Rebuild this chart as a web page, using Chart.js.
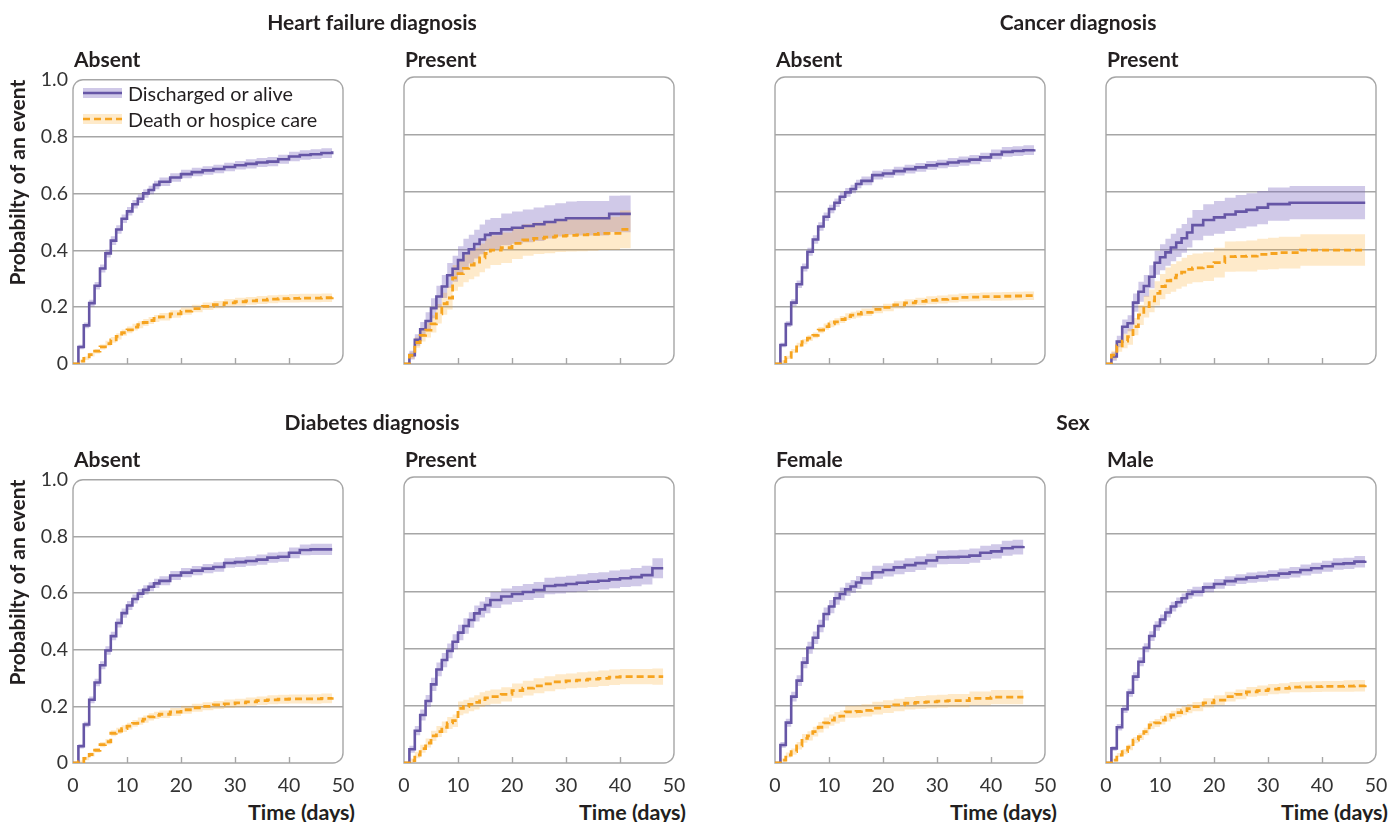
<!DOCTYPE html>
<html>
<head>
<meta charset="utf-8">
<script src="https://cdn.jsdelivr.net/npm/chart.js@4.4.1/dist/chart.umd.min.js"></script>
<style>
  body { margin: 0; background: #fff; font-family: Lato, sans-serif; color: #231f20; }
  #wrap { position: relative; width: 1392px; height: 822px; overflow: hidden; }
  #wrap canvas { position: absolute; }
  .title { position: absolute; font-weight: 700; font-size: 21px; white-space: nowrap; transform: translate(-50%, -50%); }
  .sub { position: absolute; font-weight: 700; font-size: 21px; white-space: nowrap; transform: translateY(-50%); }
  .xt { position: absolute; font-weight: 700; font-size: 21.5px; white-space: nowrap; transform: translate(-100%, -50%); }
  .leg { position: absolute; left: 83px; display: flex; align-items: center; font-size: 19.8px; white-space: nowrap; transform: translateY(-50%); }
  .leg svg { margin-right: 6px; }
</style>
</head>
<body>
<div id="wrap"></div>
<script>
// time points (days)
const T = [0,1,2,3,4,5,6,7,8,9,10,11,12,13,14,15,16,18,20,22,24,26,28,30,32,34,36,38,40,42,44,46,48];

// Heart failure diagnosis - absent
const hfAbsentDisch = [0,0.06,0.136,0.214,0.275,0.336,0.389,0.434,0.473,0.511,0.537,0.562,0.581,0.600,0.612,0.630,0.641,0.656,0.668,0.675,0.681,0.686,0.693,0.699,0.704,0.709,0.712,0.720,0.730,0.735,0.738,0.742,0.748];
const hfAbsentDischCI = [0,0.008,0.01,0.012,0.013,0.014,0.014,0.015,0.015,0.015,0.015,0.015,0.015,0.015,0.015,0.015,0.015,0.015,0.015,0.015,0.015,0.015,0.015,0.015,0.016,0.016,0.016,0.016,0.017,0.017,0.017,0.017,0.018];
const hfAbsentDeath = [0,0.01,0.02,0.033,0.045,0.06,0.072,0.085,0.097,0.11,0.12,0.13,0.138,0.146,0.153,0.16,0.166,0.176,0.186,0.195,0.203,0.209,0.215,0.219,0.222,0.225,0.228,0.23,0.231,0.232,0.232,0.233,0.235];
const hfAbsentDeathCI = [0,0.005,0.006,0.007,0.008,0.009,0.01,0.01,0.011,0.011,0.012,0.012,0.012,0.012,0.012,0.012,0.013,0.013,0.013,0.013,0.013,0.013,0.014,0.014,0.014,0.014,0.014,0.014,0.015,0.015,0.015,0.015,0.016];

// Heart failure diagnosis - present (ends at day 42)
const hfPresentDisch = [0,0.031,0.084,0.121,0.15,0.194,0.235,0.27,0.309,0.332,0.362,0.386,0.4,0.418,0.434,0.45,0.455,0.469,0.475,0.481,0.487,0.495,0.502,0.508,0.508,0.508,0.508,0.523,0.523,0.523];
const hfPresentDischCI = [0,0.015,0.02,0.025,0.03,0.035,0.038,0.04,0.043,0.045,0.048,0.05,0.05,0.05,0.052,0.053,0.054,0.055,0.056,0.057,0.058,0.058,0.058,0.058,0.06,0.06,0.06,0.063,0.064,0.064];
const hfPresentDeath = [0,0.03,0.075,0.1,0.118,0.14,0.175,0.21,0.23,0.3,0.315,0.333,0.345,0.355,0.37,0.385,0.397,0.405,0.42,0.432,0.438,0.442,0.446,0.448,0.45,0.452,0.455,0.455,0.469,0.469];
const hfPresentDeathCI = [0,0.012,0.018,0.022,0.026,0.03,0.034,0.038,0.04,0.045,0.046,0.048,0.05,0.05,0.05,0.052,0.052,0.053,0.054,0.055,0.055,0.056,0.056,0.056,0.057,0.057,0.058,0.058,0.066,0.066];

// Cancer diagnosis - absent
const caAbsentDisch = [0,0.066,0.139,0.214,0.278,0.336,0.391,0.434,0.479,0.513,0.54,0.562,0.583,0.598,0.61,0.627,0.638,0.658,0.664,0.672,0.679,0.685,0.692,0.697,0.702,0.707,0.712,0.72,0.73,0.739,0.742,0.745,0.748];
const caAbsentDischCI = [0,0.008,0.01,0.012,0.013,0.014,0.014,0.015,0.015,0.015,0.015,0.015,0.015,0.015,0.015,0.015,0.015,0.015,0.015,0.015,0.015,0.015,0.015,0.015,0.016,0.016,0.016,0.016,0.017,0.017,0.017,0.017,0.018];
const caAbsentDeath = [0,0.008,0.023,0.045,0.066,0.078,0.09,0.1,0.118,0.13,0.14,0.147,0.155,0.165,0.17,0.174,0.18,0.19,0.197,0.206,0.213,0.218,0.222,0.225,0.228,0.232,0.233,0.235,0.235,0.236,0.237,0.238,0.24];
const caAbsentDeathCI = [0,0.005,0.006,0.007,0.008,0.009,0.01,0.01,0.011,0.011,0.012,0.012,0.012,0.012,0.012,0.012,0.013,0.013,0.013,0.013,0.013,0.013,0.014,0.014,0.014,0.014,0.014,0.014,0.015,0.015,0.015,0.015,0.016];

// Cancer diagnosis - present
const caPresentDisch = [0,0.026,0.078,0.13,0.142,0.214,0.252,0.272,0.304,0.353,0.372,0.389,0.406,0.423,0.438,0.458,0.484,0.502,0.511,0.521,0.531,0.537,0.545,0.557,0.557,0.562,0.562,0.562,0.562,0.562,0.562,0.562,0.562];
const caPresentDischCI = [0,0.015,0.02,0.025,0.028,0.032,0.035,0.038,0.04,0.042,0.045,0.047,0.048,0.05,0.05,0.052,0.053,0.055,0.057,0.058,0.058,0.058,0.058,0.058,0.058,0.058,0.058,0.058,0.058,0.058,0.058,0.058,0.058];
const caPresentDeath = [0,0.031,0.063,0.08,0.095,0.13,0.171,0.2,0.22,0.246,0.27,0.29,0.3,0.31,0.32,0.33,0.335,0.339,0.353,0.374,0.375,0.376,0.382,0.385,0.388,0.388,0.397,0.397,0.397,0.397,0.397,0.397,0.397];
const caPresentDeathCI = [0,0.015,0.02,0.025,0.028,0.03,0.035,0.038,0.04,0.042,0.044,0.046,0.048,0.048,0.05,0.05,0.05,0.05,0.052,0.053,0.053,0.054,0.054,0.055,0.055,0.055,0.055,0.055,0.055,0.055,0.055,0.055,0.055];

// Diabetes diagnosis - absent
const diAbsentDisch = [0,0.059,0.136,0.223,0.284,0.345,0.397,0.448,0.494,0.529,0.556,0.579,0.598,0.611,0.622,0.634,0.643,0.662,0.672,0.679,0.686,0.692,0.706,0.709,0.713,0.718,0.725,0.728,0.742,0.752,0.754,0.754,0.754];
const diAbsentDischCI = [0,0.008,0.01,0.012,0.013,0.014,0.015,0.015,0.016,0.016,0.016,0.016,0.016,0.016,0.016,0.016,0.016,0.016,0.016,0.016,0.016,0.017,0.017,0.017,0.017,0.018,0.018,0.018,0.019,0.019,0.02,0.02,0.02];
const diAbsentDeath = [0,0.005,0.016,0.03,0.045,0.065,0.075,0.105,0.113,0.121,0.13,0.14,0.148,0.155,0.163,0.168,0.172,0.18,0.188,0.195,0.2,0.205,0.209,0.212,0.216,0.22,0.223,0.225,0.226,0.226,0.226,0.228,0.232];
const diAbsentDeathCI = [0,0.004,0.006,0.007,0.008,0.009,0.01,0.011,0.011,0.012,0.012,0.012,0.013,0.013,0.013,0.013,0.013,0.014,0.014,0.014,0.014,0.014,0.015,0.015,0.015,0.015,0.016,0.016,0.016,0.016,0.017,0.017,0.018];

// Diabetes diagnosis - present
const diPresentDisch = [0,0.048,0.113,0.168,0.217,0.275,0.327,0.36,0.392,0.424,0.456,0.479,0.5,0.523,0.537,0.552,0.57,0.582,0.591,0.598,0.605,0.619,0.622,0.626,0.63,0.634,0.637,0.642,0.646,0.65,0.657,0.681,0.681];
const diPresentDischCI = [0,0.012,0.016,0.019,0.021,0.023,0.024,0.025,0.026,0.026,0.027,0.027,0.027,0.028,0.028,0.028,0.028,0.028,0.028,0.028,0.028,0.029,0.029,0.029,0.03,0.03,0.03,0.031,0.031,0.032,0.033,0.035,0.035];
const diPresentDeath = [0,0.008,0.028,0.05,0.07,0.095,0.11,0.125,0.14,0.148,0.191,0.197,0.205,0.212,0.222,0.228,0.232,0.24,0.253,0.262,0.27,0.277,0.284,0.287,0.29,0.293,0.296,0.3,0.302,0.302,0.302,0.302,0.302];
const diPresentDeathCI = [0,0.008,0.011,0.014,0.016,0.018,0.019,0.02,0.021,0.022,0.024,0.024,0.024,0.025,0.025,0.025,0.025,0.025,0.025,0.026,0.026,0.026,0.026,0.026,0.027,0.027,0.027,0.027,0.027,0.027,0.027,0.028,0.028];

// Sex - female (ends at day 46)
const femaleDisch = [0,0.063,0.141,0.232,0.288,0.351,0.403,0.438,0.479,0.521,0.547,0.576,0.591,0.607,0.617,0.631,0.646,0.667,0.675,0.684,0.692,0.699,0.708,0.719,0.72,0.721,0.725,0.735,0.74,0.751,0.755,0.759];
const femaleDischCI = [0,0.01,0.014,0.017,0.019,0.02,0.021,0.022,0.022,0.023,0.023,0.023,0.023,0.023,0.023,0.023,0.023,0.023,0.023,0.024,0.024,0.024,0.024,0.024,0.024,0.025,0.025,0.025,0.025,0.026,0.026,0.026];
const femaleDeath = [0,0.01,0.028,0.04,0.06,0.086,0.095,0.11,0.125,0.14,0.15,0.158,0.164,0.179,0.179,0.18,0.184,0.192,0.197,0.203,0.209,0.212,0.214,0.216,0.218,0.218,0.226,0.226,0.23,0.23,0.23,0.23];
const femaleDeathCI = [0,0.006,0.009,0.011,0.013,0.015,0.016,0.017,0.018,0.019,0.02,0.02,0.02,0.021,0.021,0.021,0.021,0.022,0.022,0.022,0.022,0.022,0.023,0.023,0.023,0.023,0.024,0.024,0.025,0.025,0.025,0.025];

// Sex - male
const maleDisch = [0,0.051,0.125,0.188,0.246,0.302,0.354,0.403,0.444,0.479,0.502,0.526,0.547,0.562,0.576,0.591,0.599,0.614,0.626,0.636,0.643,0.648,0.652,0.656,0.662,0.667,0.675,0.681,0.688,0.696,0.698,0.704,0.707];
const maleDischCI = [0,0.008,0.011,0.013,0.014,0.015,0.016,0.016,0.017,0.017,0.017,0.017,0.017,0.017,0.017,0.017,0.017,0.017,0.017,0.017,0.017,0.018,0.018,0.018,0.018,0.018,0.019,0.019,0.019,0.02,0.02,0.02,0.02];
const maleDeath = [0,0.01,0.028,0.04,0.055,0.08,0.092,0.11,0.133,0.14,0.15,0.16,0.168,0.176,0.183,0.19,0.197,0.21,0.22,0.232,0.24,0.249,0.253,0.258,0.261,0.265,0.266,0.267,0.268,0.268,0.269,0.27,0.273];
const maleDeathCI = [0,0.005,0.007,0.009,0.01,0.011,0.012,0.013,0.014,0.014,0.015,0.015,0.015,0.016,0.016,0.016,0.016,0.016,0.017,0.017,0.017,0.017,0.018,0.018,0.018,0.018,0.019,0.019,0.019,0.019,0.02,0.02,0.021];

const xTicks = [0, 10, 20, 30, 40, 50];
const yTicks = [0, 0.2, 0.4, 0.6, 0.8, 1.0];

const PURPLE = '#6656a6';
const PURPLE_BAND = 'rgba(120,100,190,0.35)';
const ORANGE = '#f6a31e';
const ORANGE_BAND = 'rgba(250,175,50,0.26)';
const GREY = '#a6a6a6';

const panels = [
  { row: 0, col: 0, left: 73,   sub: 'Absent',  disch: hfAbsentDisch,  dischCI: hfAbsentDischCI,  death: hfAbsentDeath,  deathCI: hfAbsentDeathCI },
  { row: 0, col: 1, left: 404,  sub: 'Present', disch: hfPresentDisch, dischCI: hfPresentDischCI, death: hfPresentDeath, deathCI: hfPresentDeathCI },
  { row: 0, col: 2, left: 775,  sub: 'Absent',  disch: caAbsentDisch,  dischCI: caAbsentDischCI,  death: caAbsentDeath,  deathCI: caAbsentDeathCI },
  { row: 0, col: 3, left: 1106, sub: 'Present', disch: caPresentDisch, dischCI: caPresentDischCI, death: caPresentDeath, deathCI: caPresentDeathCI },
  { row: 1, col: 0, left: 73,   sub: 'Absent',  disch: diAbsentDisch,  dischCI: diAbsentDischCI,  death: diAbsentDeath,  deathCI: diAbsentDeathCI },
  { row: 1, col: 1, left: 404,  sub: 'Present', disch: diPresentDisch, dischCI: diPresentDischCI, death: diPresentDeath, deathCI: diPresentDeathCI },
  { row: 1, col: 2, left: 775,  sub: 'Female',  disch: femaleDisch,    dischCI: femaleDischCI,    death: femaleDeath,    deathCI: femaleDeathCI },
  { row: 1, col: 3, left: 1106, sub: 'Male',    disch: maleDisch,      dischCI: maleDischCI,      death: maleDeath,      deathCI: maleDeathCI }
];

const groupTitles = [
  { text: 'Heart failure diagnosis', x: 372,  y: 21 },
  { text: 'Cancer diagnosis',        x: 1078, y: 21 },
  { text: 'Diabetes diagnosis',      x: 372,  y: 421 },
  { text: 'Sex',                     x: 1073, y: 421 }
];

const wrap = document.getElementById('wrap');

function addText(cls, text, x, y) {
  const d = document.createElement('div');
  d.className = cls;
  d.textContent = text;
  d.style.left = x + 'px';
  d.style.top = y + 'px';
  wrap.appendChild(d);
  return d;
}

const pts = vals => vals.map((v, i) => ({ x: T[i], y: v }));
const upper = (vals, ci) => vals.map((v, i) => ({ x: T[i], y: v + ci[i] }));
const lower = (vals, ci) => vals.map((v, i) => ({ x: T[i], y: Math.max(0, v - ci[i]) }));

// rounded panel frame and inward x ticks
const framePlugin = {
  id: 'frame',
  beforeDatasetsDraw(chart) {
    const { ctx, chartArea: a, scales: { x } } = chart;
    const r = 10;
    ctx.save();
    ctx.strokeStyle = GREY;
    ctx.lineWidth = 1.4;
    x.ticks.forEach(t => {
      if (t.value <= 0 || t.value >= 50) return;
      const px = Math.round(x.getPixelForValue(t.value)) + 0.5;
      ctx.beginPath();
      ctx.moveTo(px, a.bottom);
      ctx.lineTo(px, a.bottom - 6);
      ctx.stroke();
    });
    ctx.beginPath();
    ctx.moveTo(a.left, a.bottom);
    ctx.lineTo(a.left, a.top + r);
    ctx.arcTo(a.left, a.top, a.left + r, a.top, r);
    ctx.lineTo(a.right - r, a.top);
    ctx.arcTo(a.right, a.top, a.right, a.top + r, r);
    ctx.lineTo(a.right, a.bottom - r);
    ctx.arcTo(a.right, a.bottom, a.right - r, a.bottom, r);
    ctx.closePath();
    ctx.stroke();
    ctx.restore();
  }
};

panels.forEach(p => {
  const yw = p.col === 0 ? 73 : 10;
  const xh = p.row === 0 ? 24 : 30;
  const plotTop = p.row === 0 ? 77 : 477;
  const plotH = p.row === 0 ? 287 : 286;
  const padTop = 14, padRight = 20;

  const canvas = document.createElement('canvas');
  canvas.width = yw + 270 + padRight;
  canvas.height = padTop + plotH + xh;
  canvas.style.left = (p.left - yw) + 'px';
  canvas.style.top = (plotTop - padTop) + 'px';
  wrap.appendChild(canvas);

  addText('sub', p.sub, p.left + 1, plotTop - 19);
  if (p.row === 1) addText('xt', 'Time (days)', p.left + 282, 812);

  new Chart(canvas.getContext('2d'), {
    type: 'line',
    data: {
      datasets: [
        { label: 'Discharged or alive', data: pts(p.disch), borderColor: PURPLE, borderWidth: 2.6, stepped: true, pointRadius: 0, fill: false, order: 1 },
        { label: 'Death or hospice care', data: pts(p.death), borderColor: ORANGE, borderWidth: 2.8, borderDash: [7, 4], borderCapStyle: 'butt', stepped: true, pointRadius: 0, fill: false, order: 0 },
        { data: upper(p.disch, p.dischCI), borderColor: 'transparent', borderWidth: 0, stepped: true, pointRadius: 0, fill: '+1', backgroundColor: PURPLE_BAND, order: 3 },
        { data: lower(p.disch, p.dischCI), borderColor: 'transparent', borderWidth: 0, stepped: true, pointRadius: 0, fill: false, order: 3 },
        { data: upper(p.death, p.deathCI), borderColor: 'transparent', borderWidth: 0, stepped: true, pointRadius: 0, fill: '+1', backgroundColor: ORANGE_BAND, order: 2 },
        { data: lower(p.death, p.deathCI), borderColor: 'transparent', borderWidth: 0, stepped: true, pointRadius: 0, fill: false, order: 2 }
      ]
    },
    options: {
      responsive: false,
      animation: false,
      events: [],
      layout: { padding: { top: padTop, right: padRight, left: 0, bottom: 0 } },
      plugins: { legend: { display: false }, tooltip: { enabled: false } },
      scales: {
        x: {
          type: 'linear', min: 0, max: 50,
          afterBuildTicks: s => { s.ticks = xTicks.map(v => ({ value: v })); },
          afterFit: s => { s.height = xh; },
          grid: { display: false },
          border: { display: false },
          ticks: { display: p.row === 1, padding: 3, color: '#333', font: { family: 'Lato', size: 19.5 }, maxRotation: 0 }
        },
        y: {
          min: 0, max: 1,
          afterBuildTicks: s => { s.ticks = yTicks.map(v => ({ value: v })); },
          afterFit: s => { s.width = yw; },
          grid: { drawTicks: false, lineWidth: 1.4, color: c => (c.tick.value <= 0 || c.tick.value >= 1) ? 'transparent' : GREY },
          border: { display: false },
          ticks: { display: p.col === 0, padding: 5, color: '#333', font: { family: 'Lato', size: 19.5 }, callback: v => v === 0 ? '0' : v.toFixed(1) },
          title: { display: p.col === 0, text: 'Probabilty of an event', align: 'end', color: '#231f20', padding: { top: 6, bottom: 0 }, font: { family: 'Lato', size: 21, weight: 'bold' } }
        }
      }
    },
    plugins: [framePlugin]
  });
});

groupTitles.forEach(g => addText('title', g.text, g.x, g.y));

// legend inside the first panel
function legendRow(y, color, band, dash, text) {
  const d = document.createElement('div');
  d.className = 'leg';
  d.style.top = y + 'px';
  d.innerHTML = '<svg width="39" height="12"><rect x="0" y="1" width="39" height="10" fill="' + band + '"/>' +
    '<line x1="0" y1="6" x2="39" y2="6" stroke="' + color + '" stroke-width="2.6"' + (dash ? ' stroke-dasharray="7 4"' : '') + '/></svg>';
  const s = document.createElement('span');
  s.textContent = text;
  d.appendChild(s);
  wrap.appendChild(d);
}
legendRow(93, PURPLE, PURPLE_BAND, false, 'Discharged or alive');
legendRow(119, ORANGE, ORANGE_BAND, true, 'Death or hospice care');
</script>
</body>
</html>
